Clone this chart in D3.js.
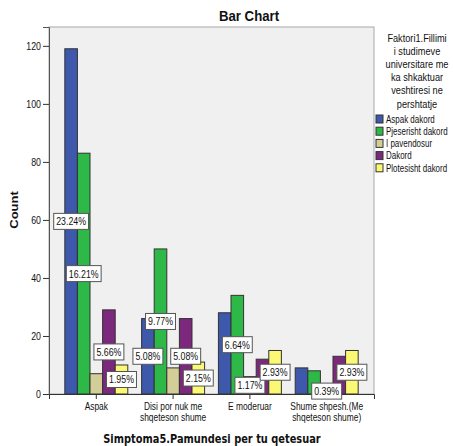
<!DOCTYPE html>
<html>
<head>
<meta charset="utf-8">
<script src="https://cdn.jsdelivr.net/npm/d3@7"></script>
<style>
  html, body { margin: 0; padding: 0; background: #fff; }
  svg { display: block; }
  text { font-family: "Liberation Sans", Arial, sans-serif; fill: #111; }
</style>
</head>
<body>
<svg id="chart" width="453" height="446"></svg>
<script>
// Categories of "Simptoma5" (a "\n" marks the line break of the axis label)
const categories = [
  "Aspak",
  "Disi por nuk me\nshqeteson shume",
  "E moderuar",
  "Shume shpesh.(Me\nshqeteson shume)"
];

// Groups of "Faktori1" shown in the legend
const seriesNames = ["Aspak dakord", "Pjeserisht dakord", "I pavendosur", "Dakord", "Plotesisht dakord"];
const seriesColors = ["#3E58AC", "#2EB848", "#D3CE97", "#7C287D", "#FBF873"];

// Counts per category, one array per group
const aspakDakord      = [119, 26, 28, 9];
const pjeserishtDakord = [83, 50, 34, 8];
const iPavendosur      = [7, 9, 6, 2];
const dakord           = [29, 26, 12, 13];
const plotesishtDakord = [10, 11, 15, 15];

// Which percentage labels are displayed (the rest are suppressed where they collide)
const labelShownAspak      = [true, true, false, false];
const labelShownPjeserisht = [true, true, true, false];
const labelShownPavendosur = [false, false, true, true];
const labelShownDakord     = [true, true, false, false];
const labelShownPlotesisht = [true, true, true, true];

const yTicks = [0, 20, 40, 60, 80, 100, 120];

const seriesValues = [aspakDakord, pjeserishtDakord, iPavendosur, dakord, plotesishtDakord];
const seriesLabelShown = [labelShownAspak, labelShownPjeserisht, labelShownPavendosur, labelShownDakord, labelShownPlotesisht];
const total = d3.sum(seriesValues.flat());

const SX = 0.8; // horizontal text condensing

const svg = d3.select("#chart");
const plot = { left: 49, right: 374, top: 27, bottom: 394 };

const x0 = d3.scaleBand().domain(d3.range(categories.length))
  .range([plot.left, plot.right]).paddingInner(0.18).paddingOuter(0.206);
const x1 = d3.scaleBand().domain(d3.range(seriesNames.length))
  .range([0, x0.bandwidth()]).padding(0);
const y = d3.scaleLinear().domain([0, 126.5]).range([plot.bottom, plot.top]);

function squeezedText(sel, x, yy, extra) {
  return sel.append("text")
    .attr("transform", `translate(${x},${yy}) scale(${SX},1)` + (extra || ""));
}

// Plot area
svg.append("rect")
  .attr("x", plot.left).attr("y", plot.top)
  .attr("width", plot.right - plot.left).attr("height", plot.bottom - plot.top)
  .attr("fill", "#F0F0F0").attr("stroke", "#A8A8A8").attr("stroke-width", 1);

// Title
svg.append("text")
  .attr("transform", `translate(249,21) scale(0.88,1)`)
  .attr("text-anchor", "middle")
  .style("font-size", "15px").style("font-weight", "bold")
  .text("Bar Chart");

// Bars
const records = [];
categories.forEach((c, ci) => {
  seriesValues.forEach((vals, si) => {
    records.push({ ci, si, v: vals[ci], shown: seriesLabelShown[si][ci] });
  });
});

svg.append("g").selectAll("rect").data(records).join("rect")
  .attr("x", d => x0(d.ci) + x1(d.si))
  .attr("y", d => y(d.v))
  .attr("width", x1.bandwidth())
  .attr("height", d => y(0) - y(d.v))
  .attr("fill", d => seriesColors[d.si])
  .attr("stroke", "#333").attr("stroke-width", 1);

// Y axis
const yAxis = svg.append("g")
  .attr("transform", `translate(${plot.left},0)`)
  .call(d3.axisLeft(y).tickValues(yTicks).tickSize(6).tickPadding(3).tickFormat(d3.format("d")));
yAxis.select(".domain").attr("stroke", "#555");
yAxis.selectAll(".tick line").attr("stroke", "#333");
yAxis.selectAll(".tick text")
  .attr("x", -10)
  .attr("transform", `scale(${SX},1)`)
  .style("font-family", "'Liberation Sans', Arial, sans-serif")
  .style("font-size", "11px").attr("fill", "#222");

// X axis
const xAxis = svg.append("g")
  .attr("transform", `translate(0,${plot.bottom})`)
  .call(d3.axisBottom(x0).tickSize(5).tickFormat(""));
xAxis.select(".domain").attr("stroke", "#333");
xAxis.selectAll(".tick line").attr("stroke", "#333");

categories.forEach((c, ci) => {
  const cx = x0(ci) + x0.bandwidth() / 2;
  c.split("\n").forEach((line, li) => {
    squeezedText(svg, cx, 410 + li * 11)
      .attr("text-anchor", "middle")
      .style("font-size", "10.5px").attr("fill", "#222")
      .text(line);
  });
});

// Axis titles
svg.append("text")
  .attr("transform", `translate(212,443) scale(0.82,1)`)
  .attr("text-anchor", "middle")
  .style("font-family", "'DejaVu Sans', Verdana, sans-serif")
  .style("font-size", "12px").style("font-weight", "bold")
  .text("Simptoma5.Pamundesi per tu qetesuar");

svg.append("text")
  .attr("transform", `translate(14,210) scale(${SX},1) rotate(-90)`)
  .attr("text-anchor", "middle").attr("dy", "0.35em")
  .style("font-size", "13px").style("font-weight", "bold")
  .text("Count");

// Percentage labels at mid-height of each bar
const pct = v => (v / total * 100).toFixed(2) + "%";
const labels = svg.append("g");
records.filter(d => d.shown).forEach(d => {
  const cx = x0(d.ci) + x1(d.si) + x1.bandwidth() / 2;
  const cy = y(d.v / 2);
  const g = labels.append("g");
  const box = g.append("rect");
  const t = g.append("text")
    .attr("transform", `translate(${cx},${cy}) scale(${SX},1)`)
    .attr("text-anchor", "middle").attr("dy", "0.36em")
    .style("font-size", "11px").attr("fill", "#111")
    .text(pct(d.v));
  const w = t.node().getComputedTextLength() * SX + 5;
  box.attr("x", cx - w / 2).attr("y", cy - 8)
    .attr("width", w).attr("height", 16)
    .attr("fill", "#fff").attr("stroke", "#555").attr("stroke-width", 1);
});

// Legend
const legendTitle = ["Faktori1.Fillimi", "i studimeve", "universitare me", "ka shkaktuar", "veshtiresi ne", "pershtatje"];
legendTitle.forEach((line, i) => {
  squeezedText(svg, 417, 42 + i * 13.1)
    .attr("text-anchor", "middle")
    .style("font-size", "11.5px").attr("fill", "#222")
    .text(line);
});
seriesNames.forEach((name, i) => {
  const yy = 119 + i * 12.2;
  svg.append("rect")
    .attr("x", 376).attr("y", yy - 4)
    .attr("width", 7).attr("height", 8)
    .attr("fill", seriesColors[i]).attr("stroke", "#333").attr("stroke-width", 1);
  svg.append("text")
    .attr("transform", `translate(386,${yy}) scale(0.76,1)`)
    .attr("dy", "0.36em")
    .style("font-size", "10.5px").attr("fill", "#222")
    .text(name);
});
</script>
</body>
</html>
